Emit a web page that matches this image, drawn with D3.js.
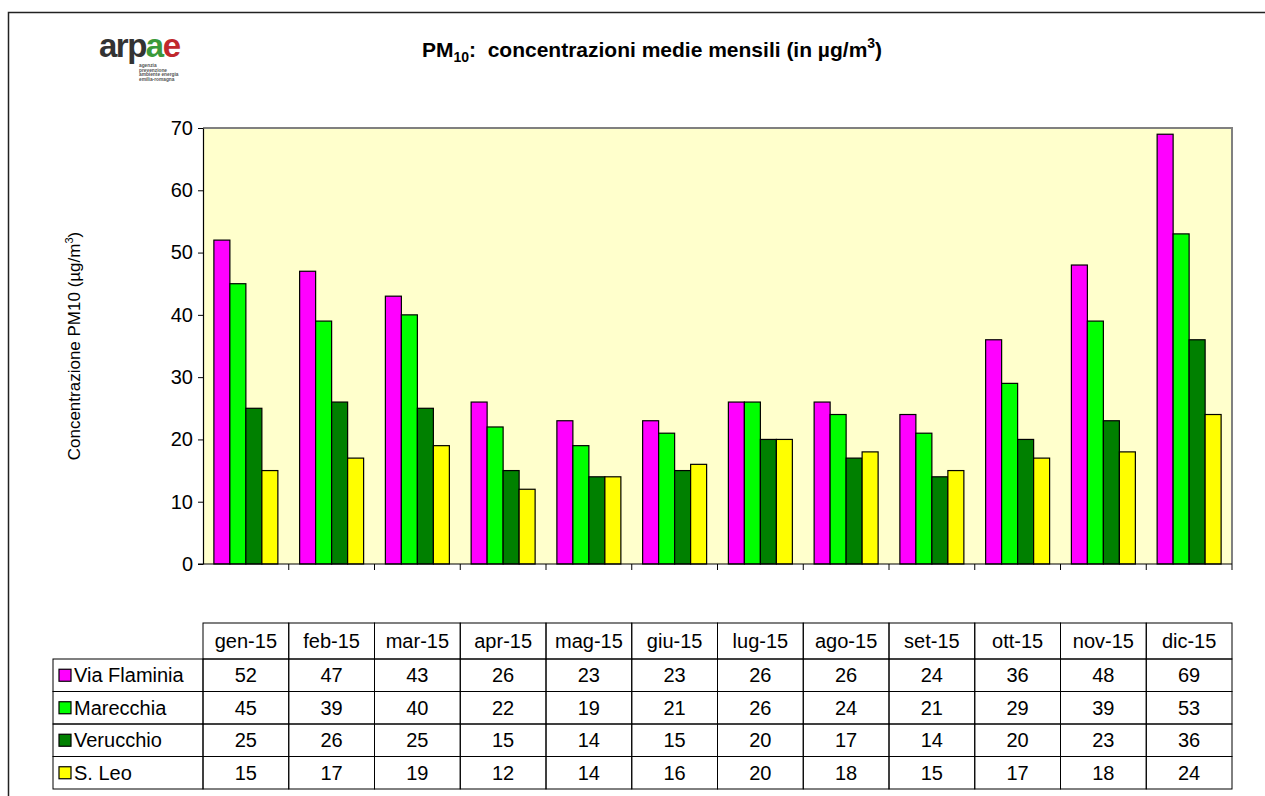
<!DOCTYPE html>
<html>
<head>
<meta charset="utf-8">
<script src="https://cdn.jsdelivr.net/npm/d3@7"></script>
<style>
  body { margin: 0; background: #fff; }
  svg { display: block; font-family: Arial, "Liberation Sans", sans-serif; }
</style>
</head>
<body>
<div id="chart-container"></div>
<script>
// Data
const months = ["gen-15", "feb-15", "mar-15", "apr-15", "mag-15", "giu-15", "lug-15", "ago-15", "set-15", "ott-15", "nov-15", "dic-15"];
const stations = ["Via Flaminia", "Marecchia", "Verucchio", "S. Leo"];
const viaFlaminia = [52, 47, 43, 26, 23, 23, 26, 26, 24, 36, 48, 69];
const marecchia = [45, 39, 40, 22, 19, 21, 26, 24, 21, 29, 39, 53];
const verucchio = [25, 26, 25, 15, 14, 15, 20, 17, 14, 20, 23, 36];
const sLeo = [15, 17, 19, 12, 14, 16, 20, 18, 15, 17, 18, 24];
const yTicks = [0, 10, 20, 30, 40, 50, 60, 70];

const seriesValues = [viaFlaminia, marecchia, verucchio, sLeo];
const colors = ["#ff00ff", "#00ff00", "#008000", "#ffff00"];

// Dimensions
const width = 1265;
const height = 796;
const plotLeft = 203;
const plotRight = 1232;
const plotTop = 128;
const plotBottom = 564;

const x0 = d3.scaleBand()
    .domain(months)
    .range([plotLeft, plotRight])
    .padding(0);

const x1 = d3.scaleBand()
    .domain(stations)
    .range([0, x0.bandwidth()])
    .paddingInner(0)
    .paddingOuter(0.68);

const y = d3.scaleLinear()
    .domain([0, 70])
    .range([plotBottom, plotTop]);

const color = d3.scaleOrdinal().domain(stations).range(colors);

const svg = d3.create("svg")
    .attr("width", width)
    .attr("height", height);

// Outer frame
svg.append("path")
    .attr("d", `M8.5,${height}V12.5H${width}`)
    .attr("fill", "none")
    .attr("stroke", "#222")
    .attr("stroke-width", 1.5);

// Logo
const logo = svg.append("g").attr("transform", "translate(99,57)");
const logoText = logo.append("text")
    .attr("font-size", 33)
    .attr("font-weight", "bold")
    .attr("letter-spacing", -1.5);
logoText.append("tspan").attr("fill", "#333").text("arp");
logoText.append("tspan").attr("fill", "#3a9a3a").text("a");
logoText.append("tspan").attr("fill", "#c0282d").text("e");
["agenzia", "prevenzione", "ambiente energia", "emilia-romagna"].forEach((t, i) => {
  logo.append("text")
      .attr("x", 40)
      .attr("y", 10 + i * 4.6)
      .attr("font-size", 4.8)
      .attr("font-weight", "bold")
      .attr("fill", "#555")
      .text(t);
});

// Title
const title = svg.append("text")
    .attr("x", 652)
    .attr("y", 57)
    .attr("text-anchor", "middle")
    .attr("font-size", 21)
    .attr("font-weight", "bold")
    .style("white-space", "pre");
title.append("tspan").text("PM");
title.append("tspan").attr("font-size", 14).attr("dy", 5).text("10");
title.append("tspan").attr("dy", -5).text(":  concentrazioni medie mensili (in µg/m");
title.append("tspan").attr("font-size", 14).attr("dy", -9).text("3");
title.append("tspan").attr("dy", 9).text(")");

// Plot background
svg.append("rect")
    .attr("x", plotLeft)
    .attr("y", plotTop)
    .attr("width", plotRight - plotLeft)
    .attr("height", plotBottom - plotTop)
    .attr("fill", "#ffffcc");

svg.append("path")
    .attr("d", `M${plotLeft},${plotTop}H${plotRight}V${plotBottom}`)
    .attr("fill", "none")
    .attr("stroke", "#808080")
    .attr("stroke-width", 2);

// Bars
const groups = svg.append("g")
  .selectAll("g")
  .data(months)
  .join("g")
    .attr("transform", d => `translate(${x0(d)},0)`);

groups.selectAll("rect")
  .data((m, i) => stations.map((s, k) => ({ station: s, value: seriesValues[k][i] })))
  .join("rect")
    .attr("x", d => x1(d.station))
    .attr("y", d => y(d.value))
    .attr("width", x1.bandwidth())
    .attr("height", d => y(0) - y(d.value))
    .attr("fill", d => color(d.station))
    .attr("stroke", "#000")
    .attr("stroke-width", 1.2);

// Y axis
const yAxis = svg.append("g")
    .attr("transform", `translate(${plotLeft},0)`)
    .call(d3.axisLeft(y).tickValues(yTicks).tickSize(5).tickSizeOuter(0));
yAxis.select(".domain").attr("stroke", "#000").attr("stroke-width", 1.2);
yAxis.selectAll(".tick line").attr("stroke", "#000");
yAxis.selectAll(".tick text")
    .attr("font-size", 20)
    .attr("font-family", "Arial, 'Liberation Sans', sans-serif")
    .attr("fill", "#000")
    .attr("x", -10);

// X axis: ticks at category boundaries
const xAxis = svg.append("g");
xAxis.append("line")
    .attr("x1", plotLeft - 5)
    .attr("x2", plotRight)
    .attr("y1", plotBottom)
    .attr("y2", plotBottom)
    .attr("stroke", "#000")
    .attr("stroke-width", 1.2);
xAxis.selectAll("line.tk")
  .data(months)
  .join("line")
    .attr("class", "tk")
    .attr("x1", d => x0(d) + x0.bandwidth())
    .attr("x2", d => x0(d) + x0.bandwidth())
    .attr("y1", plotBottom)
    .attr("y2", plotBottom + 6)
    .attr("stroke", "#000");

// Y axis label
svg.append("text")
    .attr("transform", `translate(80,${(plotTop + plotBottom) / 2}) rotate(-90)`)
    .attr("text-anchor", "middle")
    .attr("font-size", 17)
    .call(t => {
      t.append("tspan").text("Concentrazione PM10 (µg/m");
      t.append("tspan").attr("font-size", 11).attr("dy", -7).text("3");
      t.append("tspan").attr("dy", 7).text(")");
    });

// Data table
const tableTop = 623;
const headerH = 36;
const rowH = 32.5;
const labelLeft = 53;
const table = svg.append("g");

// header cells
table.selectAll("rect.hdr")
  .data(months)
  .join("rect")
    .attr("class", "hdr")
    .attr("x", d => x0(d))
    .attr("y", tableTop)
    .attr("width", x0.bandwidth())
    .attr("height", headerH)
    .attr("fill", "none")
    .attr("stroke", "#000");

table.selectAll("text.hdr")
  .data(months)
  .join("text")
    .attr("class", "hdr")
    .attr("x", d => x0(d) + x0.bandwidth() / 2)
    .attr("y", tableTop + headerH / 2 + 7)
    .attr("text-anchor", "middle")
    .attr("font-size", 20)
    .text(d => d);

const rows = table.selectAll("g.row")
  .data(stations)
  .join("g")
    .attr("class", "row")
    .attr("transform", (d, i) => `translate(0,${tableTop + headerH + i * rowH})`);

rows.append("rect")
    .attr("x", labelLeft)
    .attr("y", 0)
    .attr("width", plotLeft - labelLeft)
    .attr("height", rowH)
    .attr("fill", "none")
    .attr("stroke", "#000");

rows.append("rect")
    .attr("x", labelLeft + 6)
    .attr("y", rowH / 2 - 6)
    .attr("width", 12)
    .attr("height", 12)
    .attr("fill", d => color(d))
    .attr("stroke", "#000")
    .attr("stroke-width", 1.2);

rows.append("text")
    .attr("x", labelLeft + 21)
    .attr("y", rowH / 2 + 7)
    .attr("font-size", 20)
    .text(d => d);

rows.each(function(s, k) {
  const row = d3.select(this);
  row.selectAll("rect.cell")
    .data(months)
    .join("rect")
      .attr("class", "cell")
      .attr("x", d => x0(d))
      .attr("y", 0)
      .attr("width", x0.bandwidth())
      .attr("height", rowH)
      .attr("fill", "none")
      .attr("stroke", "#000");
  row.selectAll("text.val")
    .data(seriesValues[k])
    .join("text")
      .attr("class", "val")
      .attr("x", (d, i) => x0(months[i]) + x0.bandwidth() / 2)
      .attr("y", rowH / 2 + 7)
      .attr("text-anchor", "middle")
      .attr("font-size", 20)
      .text(d => d);
});

d3.select("#chart-container").append(() => svg.node());
</script>
</body>
</html>
